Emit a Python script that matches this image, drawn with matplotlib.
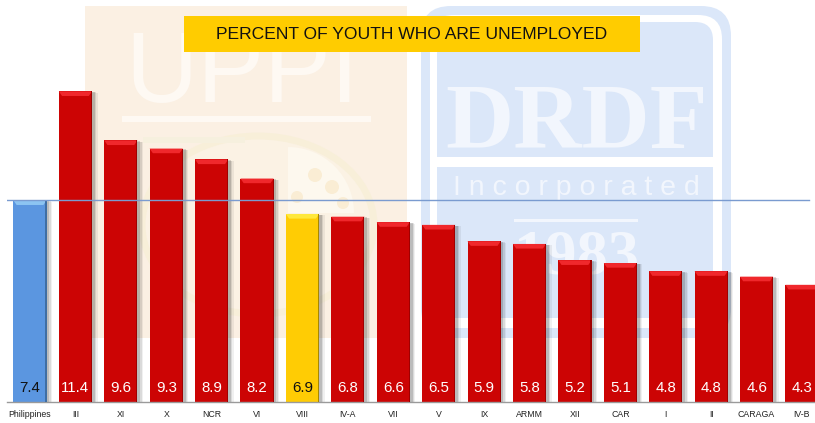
import matplotlib
matplotlib.use('Agg')
import matplotlib.pyplot as plt
import matplotlib.patheffects as pe
from matplotlib.patches import Rectangle, FancyBboxPatch, Circle, Ellipse, Wedge

# Datos
regiones = ['Philippines', 'III', 'XI', 'X', 'NCR', 'VI', 'VIII', 'IV-A', 'VII', 'V',
            'IX', 'ARMM', 'XII', 'CAR', 'I', 'II', 'CARAGA', 'IV-B']
valores = [7.4, 11.4, 9.6, 9.3, 8.9, 8.2, 6.9, 6.8, 6.6, 6.5,
           5.9, 5.8, 5.2, 5.1, 4.8, 4.8, 4.6, 4.3]
titulo = 'PERCENT OF YOUTH WHO ARE UNEMPLOYED'

ROJO = ('#cc0404', '#f0282c', '#a00000')
AZUL = ('#5b96e0', '#8cc4f2', '#3f6ea4')
AMARILLO = ('#ffcc04', '#ffe83c', '#a88800')

W, H = 815, 423
plt.rcParams['font.family'] = ['Liberation Sans', 'DejaVu Sans']
fig = plt.figure(figsize=(W / 100, H / 100), dpi=100)

# Marca de agua de fondo, en pixeles
fondo = fig.add_axes([0, 0, 1, 1])
fondo.set_xlim(0, W)
fondo.set_ylim(H, 0)
fondo.axis('off')

# panel naranja UPPI
BLANCO_N = '#fef9f3'
fondo.add_patch(Rectangle((85, 6), 322, 332, color='#fbf0e3', lw=0))
fondo.text(242, 102, 'UPPI', color=BLANCO_N, fontsize=72, ha='center', va='baseline')
fondo.add_patch(Rectangle((122, 116), 249, 6, color=BLANCO_N, lw=0))
fondo.add_patch(Ellipse((258, 225), 232, 178, fc='#fbf2e4', ec='#f8efd9', lw=5))
fondo.add_patch(Rectangle((143, 137), 102, 6, color='#f6f0de', lw=0))
fondo.add_patch(Wedge((288, 213), 66, 270, 360, color='#fdf8ee', lw=0))
for cx, cy, r in [(315, 175, 7), (332, 187, 7), (297, 197, 6), (343, 203, 6)]:
    fondo.add_patch(Circle((cx, cy), r, color='#faedd4', lw=0))

# panel azul DRDF
BLANCO_A = '#f2f6fd'
fondo.add_patch(FancyBboxPatch((421, 6), 310, 332, boxstyle='round,pad=0,rounding_size=30',
                               fc='#dbe7f9', lw=0))
fondo.add_patch(FancyBboxPatch((430, 15), 292, 313, boxstyle='round,pad=0,rounding_size=24',
                               fc='white', lw=0))
fondo.add_patch(FancyBboxPatch((437, 22), 276, 296, boxstyle='round,pad=0,rounding_size=18',
                               fc='#dbe7f9', lw=0))
fondo.add_patch(Rectangle((437, 157), 276, 10, color='white', lw=0))
fondo.text(577, 148, 'DRDF', color=BLANCO_A, fontsize=68, ha='center', va='baseline',
           family='Liberation Serif', weight='bold')
fondo.text(576, 195, 'I n c o r p o r a t e d', color=BLANCO_A, fontsize=20.5, ha='center',
           va='baseline')
fondo.add_patch(Rectangle((514, 219), 124, 3, color=BLANCO_A, lw=0))
fondo.text(577, 274, '1983', color=BLANCO_A, fontsize=45, ha='center', va='baseline',
           family='Liberation Serif', weight='bold')

# Grafico principal
ax = fig.add_axes([7.3 / W, (H - 402) / H, 817.4 / W, 402 / H])
ax.patch.set_alpha(0)
ax.set_xlim(-0.5, len(regiones) - 0.5)
ax.set_ylim(0, 402 / 27.25)

ancho = 0.73
for i, (reg, val) in enumerate(zip(regiones, valores)):
    if reg == 'Philippines':
        cara, luz, borde = AZUL
    elif reg == 'VIII':
        cara, luz, borde = AMARILLO
    else:
        cara, luz, borde = ROJO
    barra = ax.bar(i, val, width=ancho, color=cara, linewidth=0, zorder=2)[0]
    barra.set_path_effects([
        pe.SimplePatchShadow(offset=(4.0, -1.0), shadow_rgbFace='#000000', alpha=0.06),
        pe.SimplePatchShadow(offset=(3.0, -0.8), shadow_rgbFace='#000000', alpha=0.09),
        pe.SimplePatchShadow(offset=(2.0, -0.5), shadow_rgbFace='#000000', alpha=0.14),
        pe.Normal()])
    # bisel superior y canto derecho
    m = ancho / 2
    ax.fill([i - m, i + m, i + m - 0.07, i - m + 0.07],
            [val, val, val - 0.17, val - 0.17], color=luz, lw=0, zorder=3)
    ax.bar(i + m - 0.012, val, width=0.024, color=borde, linewidth=0, zorder=3)
    ax.text(i, 0.5, f'{val}', ha='center', va='center', fontsize=10.8, zorder=4,
            color='#111111' if reg in ('Philippines', 'VIII') else 'white')

# Linea de referencia del promedio nacional
ax.plot([-0.5, 17.16], [valores[0], valores[0]], color='#7a9bd0', lw=1.0, zorder=5)

ax.set_xticks(range(len(regiones)))
ax.set_xticklabels(regiones, fontsize=6.3, color='#222222')
ax.tick_params(axis='x', length=0, pad=6)
ax.set_yticks([])
for lado in ('top', 'right', 'left'):
    ax.spines[lado].set_visible(False)
ax.spines['bottom'].set_color('#9a9a9a')
ax.spines['bottom'].set_linewidth(1.0)

# Titulo sobre banda amarilla
fig.add_artist(Rectangle((184 / W, 1 - 52 / H), 456 / W, 36 / H, transform=fig.transFigure,
                         color='#ffcc00', lw=0, zorder=5))
fig.text(411.5 / W, 1 - 34.5 / H, titulo, ha='center', va='center', fontsize=12.6,
         color='#111111', zorder=6)

fig.savefig('out.png', dpi=100)
